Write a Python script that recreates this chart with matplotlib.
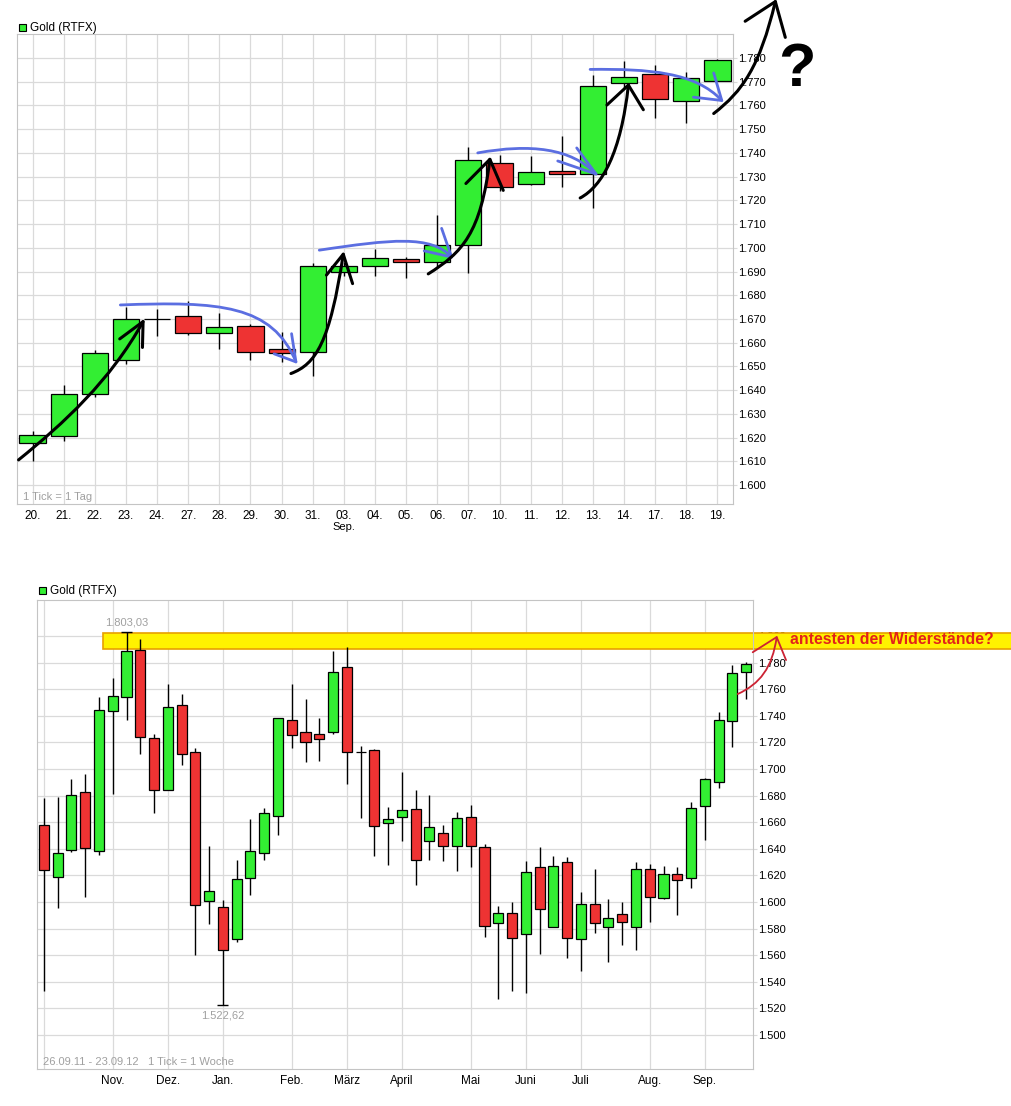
import numpy as np
import matplotlib.pyplot as plt
from matplotlib.path import Path
from matplotlib.patches import PathPatch, Rectangle
from matplotlib.ticker import FuncFormatter

plt.rcParams['font.family'] = ['Liberation Sans', 'DejaVu Sans']

# --- daily candles (top chart) ---
day_labels = ['20.', '21.', '22.', '23.', '24.', '27.', '28.', '29.', '30.', '31.', '03.', '04.',
              '05.', '06.', '07.', '10.', '11.', '12.', '13.', '14.', '17.', '18.', '19.']
day_open = [1617.7, 1620.6, 1638.2, 1652.8, 1670.0, 1671.2, 1664.2, 1667.0, 1657.2, 1656.2, 1690.0, 1692.3,
            1695.2, 1694.2, 1701.3, 1735.9, 1726.8, 1732.2, 1731.0, 1769.3, 1773.3, 1761.9, 1770.3]
day_high = [1622.8, 1642.1, 1657.0, 1675.1, 1674.4, 1677.6, 1672.5, 1668.0, 1664.7, 1693.6, 1694.0, 1699.4,
            1696.0, 1713.7, 1742.5, 1739.3, 1738.8, 1747.3, 1772.8, 1778.8, 1777.0, 1774.2, 1779.6]
day_low = [1610.0, 1618.4, 1637.0, 1651.0, 1662.7, 1663.1, 1657.2, 1652.5, 1652.0, 1646.0, 1688.0, 1688.3,
           1687.1, 1691.5, 1689.3, 1724.0, 1726.4, 1725.6, 1716.7, 1767.0, 1754.6, 1752.7, 1770.3]
day_close = [1621.0, 1638.2, 1655.5, 1670.0, 1670.0, 1664.2, 1666.7, 1656.2, 1655.7, 1692.3, 1692.3, 1695.8,
             1694.0, 1701.3, 1737.1, 1725.6, 1731.8, 1731.0, 1768.4, 1772.2, 1762.8, 1771.4, 1779.1]

# --- weekly candles (bottom chart), 26.09.11 - 23.09.12 ---
week_open = [1657.8, 1618.9, 1639.5, 1682.6, 1638.7, 1743.7, 1753.9, 1789.6, 1723.6, 1684.1, 1748.3, 1712.9,
             1600.5, 1596.2, 1572.0, 1617.8, 1636.7, 1665.0, 1736.8, 1727.9, 1726.4, 1727.9, 1776.8, 1712.9,
             1714.4, 1659.6, 1663.7, 1669.8, 1645.9, 1651.7, 1641.8, 1663.7, 1641.3, 1584.0, 1592.1, 1576.3,
             1626.0, 1580.9, 1629.8, 1572.5, 1598.7, 1580.9, 1591.1, 1580.9, 1624.7, 1603.1, 1620.9, 1617.8,
             1672.4, 1690.2, 1736.1, 1773.0]
week_high = [1678.2, 1679.0, 1692.7, 1696.1, 1753.9, 1768.7, 1803.0, 1797.5, 1726.6, 1764.3, 1756.4, 1715.9,
             1642.0, 1601.8, 1631.8, 1662.4, 1670.8, 1738.6, 1764.3, 1752.9, 1738.1, 1788.5, 1791.6, 1717.2,
             1715.2, 1671.1, 1697.8, 1684.1, 1680.8, 1658.3, 1667.8, 1672.6, 1643.3, 1597.2, 1599.7, 1631.1,
             1641.3, 1634.4, 1633.6, 1607.4, 1625.2, 1602.5, 1599.7, 1630.3, 1628.5, 1626.8, 1626.0, 1675.2,
             1693.0, 1743.2, 1778.1, 1780.1]
week_low = [1533.0, 1595.9, 1638.0, 1603.6, 1635.7, 1681.5, 1736.6, 1711.1, 1666.8, 1684.1, 1702.9, 1560.5,
            1583.7, 1522.6, 1570.0, 1605.1, 1631.8, 1650.7, 1715.9, 1705.0, 1705.7, 1726.6, 1688.4, 1663.4,
            1634.9, 1628.0, 1645.6, 1612.5, 1631.8, 1631.1, 1623.4, 1626.5, 1573.8, 1527.1, 1533.0, 1531.7,
            1561.0, 1580.9, 1558.0, 1548.3, 1576.8, 1554.7, 1567.9, 1563.6, 1585.2, 1602.0, 1590.3, 1610.2,
            1646.4, 1685.9, 1716.4, 1752.6]
week_close = [1624.0, 1636.7, 1680.3, 1640.5, 1744.5, 1754.9, 1789.0, 1724.1, 1684.1, 1747.0, 1711.3, 1597.5,
              1608.2, 1563.6, 1617.1, 1638.2, 1666.8, 1738.6, 1725.4, 1720.3, 1722.8, 1773.0, 1712.9, 1712.9,
              1657.1, 1662.2, 1669.0, 1631.6, 1656.3, 1642.5, 1662.9, 1642.5, 1581.9, 1592.1, 1573.3, 1622.7,
              1594.7, 1626.8, 1573.3, 1598.7, 1584.0, 1588.3, 1584.7, 1624.7, 1603.6, 1620.9, 1616.3, 1670.6,
              1692.2, 1736.8, 1772.2, 1779.1]
month_labels = ['Nov.', 'Dez.', 'Jan.', 'Feb.', 'März', 'April', 'Mai', 'Juni', 'Juli', 'Aug.', 'Sep.']
month_pos = [5, 9, 13, 18, 22, 26, 31, 35, 39, 44, 48]

resistance = (1790.4, 1802.6)
year_high_label = '1.803,03'
year_low_label = '1.522,62'

GREEN = '#33ee33'
RED = '#ee3333'
GRID = '#dadada'
FRAME = '#c4c4c4'
GRAY = '#a0a0a0'
BLUE = '#5b6ee1'

W, H = 1012, 1106


def fx(px):
    return px / W


def fy(py):
    return 1 - py / H


def de(v, pos=None):
    return f'{v:,.0f}'.replace(',', '.')


def candles(ax, o, h, l, c, width):
    o, h, l, c = map(np.asarray, (o, h, l, c))
    x = np.arange(len(o))
    ax.vlines(x, l, h, color='black', lw=1.0, zorder=3)
    colors = np.where(c >= o, GREEN, RED)
    ax.bar(x, np.abs(c - o), width, bottom=np.minimum(o, c), color=colors,
           edgecolor='black', lw=0.9, zorder=4)


def style(ax, yticks, xgrid):
    for s in ax.spines.values():
        s.set_color(FRAME)
    for y in yticks:
        ax.axhline(y, color=GRID, lw=0.9, zorder=1)
    for x in xgrid:
        ax.axvline(x, color=GRID, lw=0.9, zorder=1)
    ax.yaxis.tick_right()
    ax.set_yticks(yticks)
    ax.yaxis.set_major_formatter(FuncFormatter(de))
    ax.tick_params(axis='y', length=3, color=GRID, pad=1, labelsize=8)
    ax.tick_params(axis='x', length=0, pad=4, labelsize=8.5)


def stroke(ax, ctrl, tip, color, lw):
    path = Path(ctrl, [Path.MOVETO, Path.CURVE4, Path.CURVE4, Path.CURVE4])
    ax.add_patch(PathPatch(path, fc='none', ec=color, lw=lw, capstyle='round',
                           joinstyle='round', clip_on=False, zorder=6))
    xs, ys = zip(*tip)
    ax.plot(xs, ys, color=color, lw=lw, solid_capstyle='round',
            solid_joinstyle='round', clip_on=False, zorder=6)


fig = plt.figure(figsize=(W / 100, H / 100), dpi=100)

# ---------------- top: daily ----------------
ax1 = fig.add_axes([fx(17), fy(504), 716 / W, 469.7 / H])
candles(ax1, day_open, day_high, day_low, day_close, 0.84)
ax1.set_xlim(-0.5, len(day_labels) - 0.5)
ax1.set_ylim(1592, 1790)
style(ax1, np.arange(1600, 1781, 10), range(len(day_labels)))
ax1.set_xticks(range(len(day_labels)))
ax1.set_xticklabels(day_labels)
ax1.annotate('Sep.', xy=(10, 0), xycoords=('data', 'axes fraction'), xytext=(0, -13),
             textcoords='offset points', ha='center', va='top', fontsize=8)

# hand drawn black arrows (up moves)
black = [
    ([(-0.45, 1610.6), (1.0, 1626), (2.5, 1644), (3.55, 1668.9)], [(2.80, 1661.6), (3.55, 1668.9), (3.53, 1658.0)]),
    ([(8.30, 1647), (9.1, 1651), (9.55, 1660), (9.98, 1697.3)], [(9.44, 1688.5), (9.98, 1697.3), (10.28, 1684.9)]),
    ([(12.71, 1689), (13.8, 1698), (14.4, 1706), (14.69, 1737.3)], [(13.92, 1727.1), (14.69, 1737.3), (15.12, 1724.2)]),
    ([(17.59, 1721), (18.3, 1726), (18.9, 1740), (19.14, 1768.6)], [(18.45, 1760.2), (19.14, 1768.6), (19.62, 1758.2)]),
    ([(21.88, 1756.6), (22.8, 1766), (23.35, 1776), (23.86, 1803.8)], [(22.89, 1795.5), (23.86, 1803.8), (24.18, 1788.7)]),
]
# hand drawn blue arrows (sideways consolidation)
blue = [
    ([(2.82, 1675.9), (6.0, 1677.5), (7.7, 1676), (8.46, 1651.9)], [(7.76, 1655.3), (8.46, 1651.9), (8.32, 1663.8)]),
    ([(9.21, 1699), (11.5, 1703.5), (12.8, 1705.5), (13.46, 1696.1)], [(12.58, 1698.7), (13.46, 1696.1), (13.14, 1708.2)]),
    ([(14.30, 1740), (16.0, 1744), (17.3, 1742), (18.10, 1731.1)], [(16.87, 1736.6), (18.10, 1731.1), (17.48, 1742.1)]),
    ([(17.91, 1775.2), (19.8, 1775.5), (21.3, 1774), (22.14, 1762.1)], [(21.23, 1763.5), (22.14, 1762.1), (21.88, 1773.7)]),
]
for ctrl, tip in blue:
    stroke(ax1, ctrl, tip, BLUE, 2.0)
for ctrl, tip in black:
    stroke(ax1, ctrl, tip, 'black', 2.2)

fig.text(fx(797), fy(70), '?', fontsize=44, fontweight='bold', ha='center', va='center')
fig.text(fx(23), fy(497), '1 Tick = 1 Tag', fontsize=8, color=GRAY, va='center')
fig.add_artist(Rectangle((fx(19), fy(31)), 7 / W, 7 / H, transform=fig.transFigure,
                         fc=GREEN, ec='black', lw=0.8))
fig.text(fx(30), fy(27.5), 'Gold (RTFX)', fontsize=8.5, va='center')

# ---------------- bottom: weekly ----------------
ax2 = fig.add_axes([fx(37), fy(1069), 716 / W, 469.3 / H])
candles(ax2, week_open, week_high, week_low, week_close, 0.73)
ax2.set_xlim(-0.5, len(week_open) - 0.5)
ax2.set_ylim(1474.5, 1827.3)
style(ax2, np.arange(1500, 1801, 20), [0] + month_pos)
ax2.set_xticks(month_pos)
ax2.set_xticklabels(month_labels)

# resistance zone
ax2.add_patch(Rectangle((4.29, resistance[0]), 66, resistance[1] - resistance[0],
                        fc='#fff200', ec='#e8a000', lw=1.2, clip_on=False, zorder=2))
i_hi = int(np.argmax(week_high))
i_lo = int(np.argmin(week_low))
ax2.hlines([week_high[i_hi]], i_hi - 0.4, i_hi + 0.4, color='black', lw=1, zorder=3)
ax2.hlines([week_low[i_lo]], i_lo - 0.4, i_lo + 0.4, color='black', lw=1, zorder=3)
ax2.annotate(year_high_label, xy=(i_hi, week_high[i_hi]), xytext=(0, 3), textcoords='offset points',
             ha='center', va='bottom', fontsize=8, color=GRAY)
ax2.annotate(year_low_label, xy=(i_lo, week_low[i_lo]), xytext=(0, -4), textcoords='offset points',
             ha='center', va='top', fontsize=8, color=GRAY)

stroke(ax2, [(50.39, 1756.4), (52.0, 1764), (52.9, 1776), (53.22, 1799.2)],
       [(51.48, 1787.8), (53.22, 1799.2), (53.90, 1781.9)], '#cc2233', 1.3)

fig.text(fx(790), fy(640), 'antesten der Widerstände?', fontsize=11.4, fontweight='bold',
         color='#e2231a', va='center')
fig.text(fx(43), fy(1062), '26.09.11 - 23.09.12   1 Tick = 1 Woche', fontsize=8, color=GRAY, va='center')
fig.add_artist(Rectangle((fx(39), fy(594)), 7 / W, 7 / H, transform=fig.transFigure,
                         fc=GREEN, ec='black', lw=0.8))
fig.text(fx(50), fy(590.5), 'Gold (RTFX)', fontsize=8.5, va='center')

fig.savefig('out.png', dpi=100)
